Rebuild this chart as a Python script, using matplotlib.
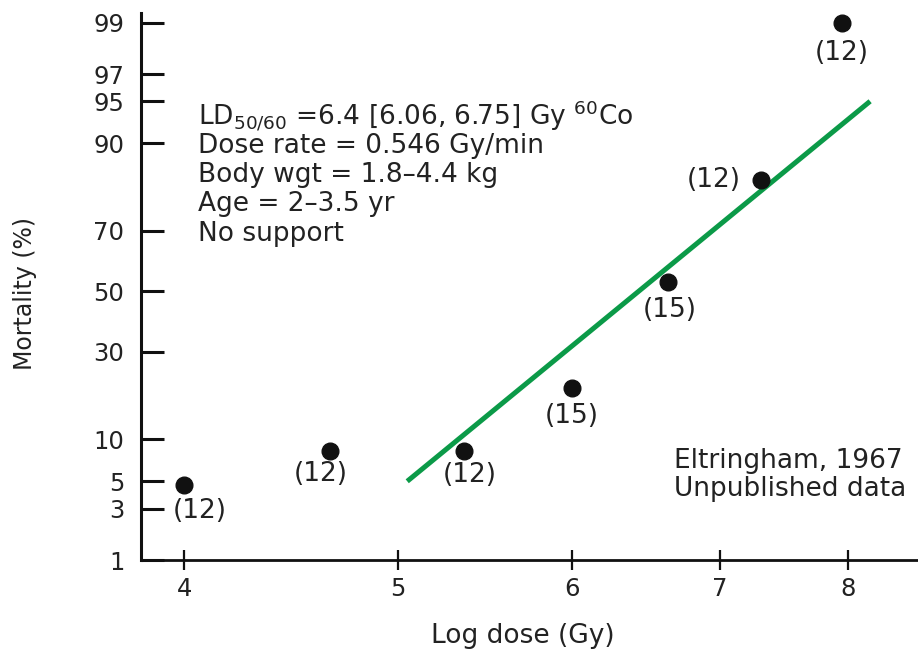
import numpy as np
import matplotlib
matplotlib.use("Agg")
import matplotlib.pyplot as plt
from matplotlib.ticker import FixedLocator, NullLocator, FixedFormatter
from statistics import NormalDist

# ---------------- data ----------------
dose_gy = [4.0, 4.66, 5.36, 6.0, 6.63, 7.31, 7.95]
mortality_pct = [4.7, 8.33, 8.33, 20.0, 53.3, 83.3, 99.0]
n_animals = ["(12)", "(12)", "(12)", "(15)", "(15)", "(12)", "(12)"]

fit_dose = [5.05, 8.19]
fit_mortality = [5.0, 95.0]

x_ticks = [4, 5, 6, 7, 8]
y_ticks = [1, 3, 5, 10, 30, 50, 70, 90, 95, 97, 99]

info_lines = [
    r"LD$_{50/60}$ =6.4 [6.06, 6.75] Gy $^{60}$Co",
    "Dose rate = 0.546 Gy/min",
    "Body wgt = 1.8\u20134.4 kg",
    "Age = 2\u20133.5 yr",
    "No support",
]
source_lines = ["Eltringham, 1967", "Unpublished data"]

# label offsets (pixels, dx right, dy down) -- layout only
label_offsets_px = [(16, 26), (-10, 23), (5, 24), (0, 28), (2, 28), (-48, 0), (0, 30)]

# ---------------- probit scale ----------------
_nd = NormalDist()
_ppf = np.vectorize(lambda p: _nd.inv_cdf(min(max(p / 100.0, 1e-9), 1 - 1e-9)),
                    otypes=[float])
_cdf = np.vectorize(lambda z: 100.0 * _nd.cdf(z), otypes=[float])


def fwd(p):
    return _ppf(np.asarray(p, dtype=float))


def inv(z):
    return _cdf(np.asarray(z, dtype=float))


plt.rcParams["font.family"] = ["DejaVu Sans"]
plt.rcParams["mathtext.fontset"] = "dejavusans"

W, H = 918, 653
DPI = 100
fig = plt.figure(figsize=(W / DPI, H / DPI), dpi=DPI)
fig.patch.set_facecolor("white")

ax_left, ax_right, ax_top, ax_bottom = 141, 918, 13, 560
ax = fig.add_axes([ax_left / W, 1 - ax_bottom / H,
                   (ax_right - ax_left) / W, (ax_bottom - ax_top) / H])

ax.set_xscale("log")
ax.set_yscale("function", functions=(fwd, inv))
ax.set_xlim(3.824, 8.61)
ax.set_ylim(1, 99.2)

text_color = "#222222"

# fitted line
ax.plot(fit_dose, fit_mortality, color="#0b9a48", lw=3.6, solid_capstyle="butt", zorder=2)

# data points
ax.plot(dose_gy, mortality_pct, "o", color="#111111", ms=12, mec="#111111", zorder=3,
        clip_on=False)

px2pt = 72.0 / DPI
for x, y, lab, (dx, dy) in zip(dose_gy, mortality_pct, n_animals, label_offsets_px):
    ax.annotate(lab, (x, y), xytext=(dx * px2pt, -dy * px2pt), textcoords="offset points",
                ha="center", va="center", fontsize=19, color=text_color)

# axes styling
for s in ["top", "right"]:
    ax.spines[s].set_visible(False)
ax.spines["left"].set_linewidth(2.2)
ax.spines["bottom"].set_linewidth(2.0)
ax.spines["left"].set_color("#111111")
ax.spines["bottom"].set_color("#111111")

ax.xaxis.set_major_locator(FixedLocator(x_ticks))
ax.xaxis.set_major_formatter(FixedFormatter([str(t) for t in x_ticks]))
ax.xaxis.set_minor_locator(NullLocator())
ax.yaxis.set_major_locator(FixedLocator(y_ticks))
ax.yaxis.set_major_formatter(FixedFormatter([str(t) for t in y_ticks]))
ax.yaxis.set_minor_locator(NullLocator())

ax.tick_params(axis="y", direction="in", length=16.5, width=2.2, pad=12,
               labelsize=17.5, labelcolor=text_color, color="#111111")
ax.tick_params(axis="x", direction="inout", length=14.4, width=1.6, pad=5,
               labelsize=17.5, labelcolor=text_color, color="#111111")

ax.set_xlabel("Log dose (Gy)", fontsize=19, color=text_color)
ax.xaxis.set_label_coords((523 - ax_left) / (ax_right - ax_left),
                          (ax_bottom - 636) / (ax_bottom - ax_top))
ax.xaxis.label.set_va("center")
ax.set_ylabel("Mortality (%)", fontsize=17, color=text_color)
ax.yaxis.set_label_coords((25 - ax_left) / (ax_right - ax_left),
                          (ax_bottom - 293) / (ax_bottom - ax_top))
ax.yaxis.label.set_va("center")

# info text block
info_y0, info_step = 116, 29.5
for i, line in enumerate(info_lines):
    fig.text(198 / W, 1 - (info_y0 + i * info_step) / H, line, fontsize=19,
             color=text_color, ha="left", va="center")

for i, line in enumerate(source_lines):
    fig.text(674 / W, 1 - (461 + i * 28) / H, line, fontsize=19,
             color=text_color, ha="left", va="center")

fig.savefig("out.png", dpi=DPI, facecolor="white")
